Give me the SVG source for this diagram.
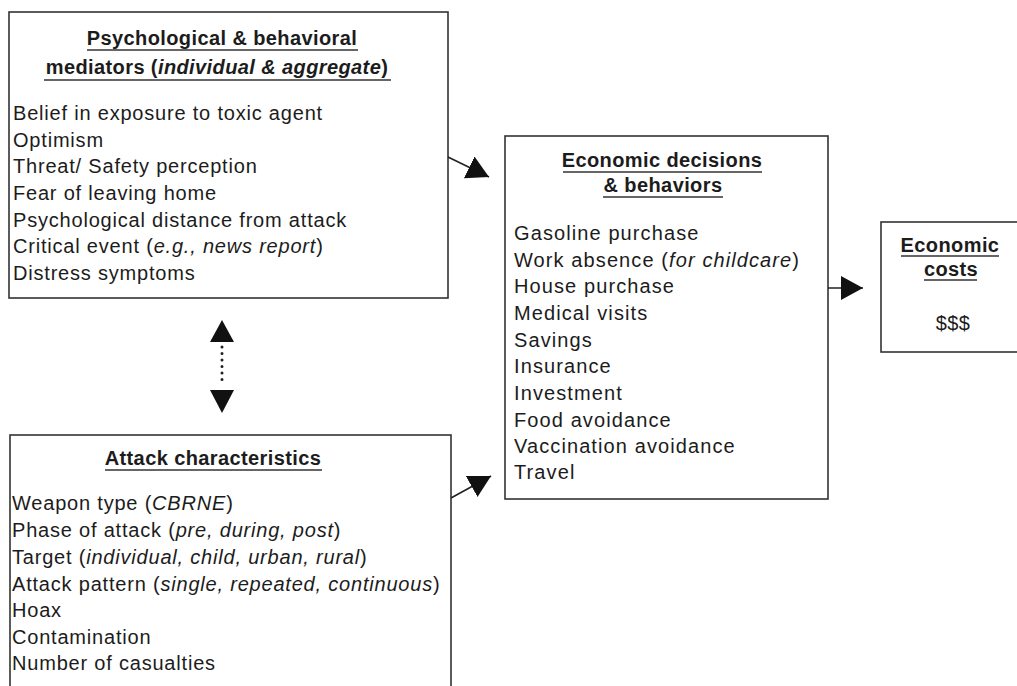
<svg xmlns="http://www.w3.org/2000/svg" width="1017" height="686" viewBox="0 0 1017 686">
<defs>
<style>
.box{fill:#fff;stroke:#333;stroke-width:1.6}
.t{font-family:"Liberation Sans",Arial,sans-serif;font-size:20px;fill:#1c1c1c;letter-spacing:0.8px}
.m{letter-spacing:1.1px}
.h{font-family:"Liberation Sans",Arial,sans-serif;font-size:20px;font-weight:bold;fill:#1c1c1c;letter-spacing:0.4px;text-anchor:middle}
.n{font-weight:normal}
.u{stroke:#333;stroke-width:1.5}
.c{stroke:#222;stroke-width:1.6;fill:none}
</style>
<marker id="ah" markerUnits="userSpaceOnUse" markerWidth="24" markerHeight="26" refX="22" refY="12" orient="auto" viewBox="0 0 24 24">
<path d="M0,0 L22,12 L0,24 Z" fill="#111"/>
</marker>
</defs>
<rect width="1017" height="686" fill="#fff"/>

<g id="mediators">
<rect class="box" x="9" y="12" width="439" height="286"/>
<text class="h" x="222" y="45">Psychological &amp; behavioral</text>
<line class="u" x1="87" y1="50" x2="358" y2="50"/>
<text class="h" x="217" y="74">mediators (<tspan font-style="italic">individual &amp; aggregate</tspan>)</text>
<line class="u" x1="44" y1="80" x2="391" y2="80"/>
<text class="t" x="13" y="120">Belief in exposure to toxic agent</text>
<text class="t" x="13" y="147">Optimism</text>
<text class="t" x="13" y="173">Threat/ Safety perception</text>
<text class="t" x="13" y="200">Fear of leaving home</text>
<text class="t" x="13" y="227">Psychological distance from attack</text>
<text class="t" x="13" y="253">Critical event (<tspan font-style="italic">e.g., news report</tspan>)</text>
<text class="t" x="13" y="280">Distress symptoms</text>
</g>

<g id="attack">
<rect class="box" x="10" y="435" width="441" height="300"/>
<text class="h" x="213" y="465">Attack characteristics</text>
<line class="u" x1="105" y1="470" x2="322" y2="470"/>
<text class="t" x="12" y="510">Weapon type (<tspan font-style="italic">CBRNE</tspan>)</text>
<text class="t" x="12" y="537">Phase of attack (<tspan font-style="italic">pre, during, post</tspan>)</text>
<text class="t" x="12" y="564">Target (<tspan font-style="italic">individual, child, urban, rural</tspan>)</text>
<text class="t" x="12" y="591">Attack pattern (<tspan font-style="italic">single, repeated, continuous</tspan>)</text>
<text class="t" x="12" y="617">Hoax</text>
<text class="t" x="12" y="644">Contamination</text>
<text class="t" x="12" y="670">Number of casualties</text>
</g>

<g id="decisions">
<rect class="box" x="505" y="136" width="323" height="363"/>
<text class="h" x="662" y="167">Economic decisions</text>
<line class="u" x1="563" y1="172" x2="762" y2="172"/>
<text class="h" x="663" y="192">&amp; behaviors</text>
<line class="u" x1="603" y1="197" x2="723" y2="197"/>
<text class="t m" x="514" y="240">Gasoline purchase</text>
<text class="t m" x="514" y="267">Work absence (<tspan font-style="italic">for childcare</tspan>)</text>
<text class="t m" x="514" y="293">House purchase</text>
<text class="t m" x="514" y="320">Medical visits</text>
<text class="t m" x="514" y="347">Savings</text>
<text class="t m" x="514" y="373">Insurance</text>
<text class="t m" x="514" y="400">Investment</text>
<text class="t m" x="514" y="427">Food avoidance</text>
<text class="t m" x="514" y="453">Vaccination avoidance</text>
<text class="t m" x="514" y="479">Travel</text>
</g>

<g id="costs">
<rect class="box" x="881" y="222" width="150" height="130"/>
<text class="h" x="950" y="252">Economic</text>
<line class="u" x1="901" y1="256" x2="999" y2="256"/>
<text class="h" x="951" y="276">costs</text>
<line class="u" x1="924" y1="280" x2="977" y2="280"/>
<text class="h n" x="953" y="330">$$$</text>
</g>

<g id="connectors">
<line class="c" x1="448" y1="157" x2="489" y2="177" marker-end="url(#ah)"/>
<line class="c" x1="451" y1="498" x2="491" y2="476" marker-end="url(#ah)"/>
<line class="c" x1="828" y1="288" x2="863" y2="288" marker-end="url(#ah)"/>
<line x1="222" y1="347" x2="222" y2="386" stroke="#222" stroke-width="3" stroke-linecap="round" stroke-dasharray="0 6.5"/>
<path d="M222,320 L234,342 L210,342 Z" fill="#111"/>
<path d="M210,390 L234,390 L222,413 Z" fill="#111"/>
</g>
</svg>
